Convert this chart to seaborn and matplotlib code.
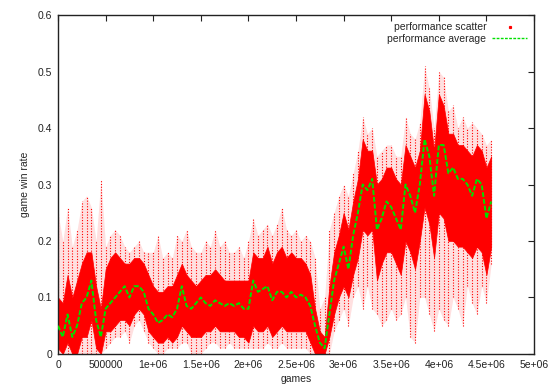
import numpy as np
import pandas as pd
import seaborn as sns
import matplotlib.pyplot as plt
from matplotlib.lines import Line2D

# games axis, one value every 50000 games
games = np.arange(0, 4550001, 50000)

# green moving average
win_avg = [
    0.05, 0.03, 0.07, 0.03, 0.05, 0.09, 0.10, 0.13, 0.06, 0.03,
    0.08, 0.09, 0.10, 0.11, 0.12, 0.10, 0.12, 0.12, 0.11, 0.08,
    0.07, 0.055, 0.06, 0.07, 0.065, 0.08, 0.12, 0.085, 0.08, 0.09,
    0.10, 0.09, 0.085, 0.095, 0.09, 0.085, 0.09, 0.085, 0.09, 0.08,
    0.08, 0.13, 0.11, 0.115, 0.12, 0.095, 0.11, 0.11, 0.10, 0.11,
    0.10, 0.105, 0.10, 0.085, 0.05, 0.02, 0.01, 0.07, 0.13, 0.16,
    0.19, 0.15, 0.21, 0.25, 0.30, 0.29, 0.31, 0.22, 0.24, 0.27,
    0.26, 0.24, 0.22, 0.30, 0.28, 0.25, 0.30, 0.38, 0.35, 0.28,
    0.37, 0.37, 0.32, 0.33, 0.31, 0.31, 0.30, 0.28, 0.31, 0.30,
    0.24, 0.27,
]

# dense part of the scatter cloud
dense_lo = [
    0.01, 0.0, 0.02, 0.0, 0.0, 0.03, 0.03, 0.06, 0.01, 0.0,
    0.04, 0.04, 0.05, 0.06, 0.06, 0.05, 0.07, 0.08, 0.07, 0.04,
    0.03, 0.02, 0.02, 0.03, 0.02, 0.03, 0.05, 0.04, 0.03, 0.03,
    0.03, 0.04, 0.04, 0.05, 0.04, 0.04, 0.04, 0.04, 0.03, 0.03,
    0.02, 0.05, 0.04, 0.04, 0.05, 0.03, 0.04, 0.05, 0.04, 0.04,
    0.04, 0.04, 0.04, 0.02, 0.0, 0.0, 0.0, 0.03, 0.07, 0.10,
    0.12, 0.10, 0.14, 0.17, 0.22, 0.21, 0.22, 0.13, 0.16, 0.18,
    0.18, 0.16, 0.14, 0.20, 0.18, 0.15, 0.20, 0.26, 0.23, 0.17,
    0.25, 0.24, 0.20, 0.20, 0.19, 0.19, 0.18, 0.17, 0.19, 0.18,
    0.14, 0.19,
]
dense_hi = [
    0.10, 0.09, 0.14, 0.10, 0.13, 0.16, 0.18, 0.18, 0.12, 0.08,
    0.15, 0.17, 0.18, 0.17, 0.16, 0.16, 0.17, 0.17, 0.16, 0.14,
    0.12, 0.11, 0.11, 0.12, 0.12, 0.14, 0.16, 0.14, 0.13, 0.12,
    0.13, 0.14, 0.14, 0.15, 0.14, 0.13, 0.13, 0.13, 0.13, 0.13,
    0.13, 0.18, 0.17, 0.17, 0.19, 0.16, 0.18, 0.19, 0.17, 0.18,
    0.17, 0.17, 0.16, 0.14, 0.08, 0.04, 0.03, 0.12, 0.18, 0.21,
    0.25, 0.22, 0.27, 0.31, 0.38, 0.36, 0.36, 0.30, 0.31, 0.33,
    0.33, 0.31, 0.30, 0.37, 0.35, 0.33, 0.36, 0.46, 0.43, 0.36,
    0.46, 0.44, 0.39, 0.39, 0.37, 0.37, 0.36, 0.35, 0.37, 0.36,
    0.33, 0.35,
]

# sparse outliers of the scatter cloud
spread_min = [
    0.0, 0.0, 0.0, 0.0, 0.0, 0.0, 0.0, 0.0, 0.0, 0.0,
    0.01, 0.02, 0.03, 0.03, 0.04, 0.02, 0.05, 0.06, 0.04, 0.02,
    0.01, 0.0, 0.0, 0.01, 0.01, 0.01, 0.02, 0.02, 0.0, 0.0,
    0.0, 0.01, 0.02, 0.02, 0.01, 0.01, 0.02, 0.01, 0.01, 0.01,
    0.01, 0.01, 0.01, 0.01, 0.02, 0.01, 0.01, 0.02, 0.01, 0.01,
    0.01, 0.01, 0.01, 0.0, 0.0, 0.0, 0.0, 0.0, 0.04, 0.06,
    0.08, 0.05, 0.10, 0.12, 0.08, 0.12, 0.08, 0.07, 0.05, 0.06,
    0.08, 0.06, 0.07, 0.10, 0.03, 0.02, 0.10, 0.10, 0.07, 0.04,
    0.08, 0.06, 0.05, 0.10, 0.08, 0.05, 0.12, 0.09, 0.07, 0.12,
    0.09, 0.16,
]
spread_max = [
    0.25, 0.20, 0.26, 0.19, 0.22, 0.27, 0.28, 0.26, 0.20, 0.31,
    0.19, 0.21, 0.22, 0.21, 0.19, 0.18, 0.19, 0.20, 0.18, 0.18,
    0.18, 0.21, 0.17, 0.18, 0.17, 0.21, 0.20, 0.22, 0.19, 0.18,
    0.18, 0.20, 0.19, 0.22, 0.19, 0.20, 0.18, 0.18, 0.19, 0.17,
    0.20, 0.24, 0.21, 0.22, 0.23, 0.21, 0.23, 0.26, 0.22, 0.21,
    0.22, 0.20, 0.21, 0.20, 0.17, 0.08, 0.10, 0.22, 0.25, 0.28,
    0.30, 0.28, 0.32, 0.36, 0.42, 0.39, 0.40, 0.35, 0.36, 0.37,
    0.37, 0.35, 0.35, 0.42, 0.39, 0.38, 0.41, 0.51, 0.47, 0.40,
    0.50, 0.49, 0.43, 0.44, 0.40, 0.42, 0.40, 0.41, 0.40, 0.39,
    0.37, 0.38,
]

x_ticks = [0, 500000, 1000000, 1500000, 2000000, 2500000,
           3000000, 3500000, 4000000, 4500000, 5000000]
x_labels = ["0", "500000", "1e+06", "1.5e+06", "2e+06", "2.5e+06",
            "3e+06", "3.5e+06", "4e+06", "4.5e+06", "5e+06"]

df = pd.DataFrame({"games": games, "avg": win_avg})

sns.set_style("white")
plt.rcParams["font.family"] = ["Liberation Sans", "DejaVu Sans"]
plt.rcParams["font.size"] = 7.5

fig = plt.figure(figsize=(5.5, 3.86), dpi=100)
ax = fig.add_axes([0.1055, 0.083, 0.8655, 0.878])

red = "#ff0000"
# sparse cloud: faint fill plus dotted streaks
ax.fill_between(games, spread_min, spread_max, color=red, alpha=0.12,
                lw=0, zorder=1)
ax.vlines(games, spread_min, spread_max, color=red, lw=0.8,
          linestyles=(0, (1, 1.5)), zorder=2)
# dense core of the cloud
ax.fill_between(games, dense_lo, dense_hi, color=red, lw=0.5,
                edgecolor=red, zorder=2)
sns.lineplot(data=df, x="games", y="avg", ax=ax, color="#00e000",
             lw=1.4, zorder=3)
ax.lines[-1].set_linestyle((0, (2.5, 1)))

ax.set_xlim(0, 5000000)
ax.set_ylim(0, 0.6)
ax.set_xticks(x_ticks)
ax.set_xticklabels(x_labels)
ax.set_yticks([0, 0.1, 0.2, 0.3, 0.4, 0.5, 0.6])
ax.set_yticklabels(["0", "0.1", "0.2", "0.3", "0.4", "0.5", "0.6"])
ax.tick_params(direction="in", top=True, right=True, length=4,
               width=0.8, labelsize=7.5, colors="#222222", pad=4)
for s in ax.spines.values():
    s.set_color("#222222")
    s.set_linewidth(1.0)
ax.set_xlabel("games", fontsize=7.5, labelpad=3)
ax.set_ylabel("game win rate", fontsize=7.5, labelpad=6)

handles = [
    Line2D([], [], color=red, marker="s", markersize=1.3, lw=0),
    Line2D([], [], color="#00e000", lw=1.0, linestyle=(0, (2, 1))),
]
ax.legend(handles, ["performance scatter", "performance average"],
          loc="upper right", frameon=False, markerfirst=False,
          handlelength=3.3, fontsize=7.5, borderaxespad=0.3,
          labelspacing=0.15, handletextpad=0.6)

fig.savefig("out.png", dpi=100)
